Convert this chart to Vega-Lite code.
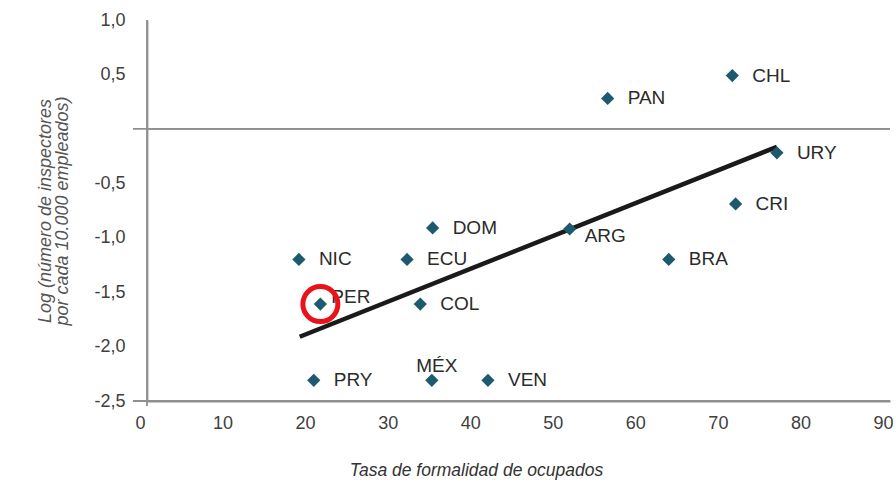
{
  "$schema": "https://vega.github.io/schema/vega-lite/v6.json",
  "autosize": "none",
  "width": 743,
  "height": 381,
  "padding": {"left": 147, "top": 20, "right": 6, "bottom": 85},
  "background": "white",
  "config": {
    "view": {"stroke": null},
    "font": "Liberation Sans"
  },
  "datasets": {
    "paises": [
      {"pais": "CHL", "formalidad": 70.9, "inspectores": 0.49},
      {"pais": "PAN", "formalidad": 55.8, "inspectores": 0.28},
      {"pais": "URY", "formalidad": 76.3, "inspectores": -0.22},
      {"pais": "CRI", "formalidad": 71.3, "inspectores": -0.69},
      {"pais": "ARG", "formalidad": 51.2, "inspectores": -0.92},
      {"pais": "BRA", "formalidad": 63.2, "inspectores": -1.20},
      {"pais": "DOM", "formalidad": 34.6, "inspectores": -0.91},
      {"pais": "NIC", "formalidad": 18.4, "inspectores": -1.20},
      {"pais": "ECU", "formalidad": 31.5, "inspectores": -1.20},
      {"pais": "PER", "formalidad": 21.0, "inspectores": -1.61},
      {"pais": "COL", "formalidad": 33.1, "inspectores": -1.61},
      {"pais": "PRY", "formalidad": 20.2, "inspectores": -2.31},
      {"pais": "MÉX", "formalidad": 34.5, "inspectores": -2.31},
      {"pais": "VEN", "formalidad": 41.3, "inspectores": -2.31}
    ],
    "tendencia": [
      {"formalidad": 18.5, "inspectores": -1.91},
      {"formalidad": 76.3, "inspectores": -0.165}
    ],
    "ejes": [{"formalidad": 0, "inspectores": 0}]
  },
  "layer": [
    {
      "data": {"name": "ejes"},
      "mark": {"type": "rule", "color": "#8f8f8f", "strokeWidth": 1.8},
      "encoding": {
        "x": {"datum": -1.7, "type": "quantitative", "scale": {"domain": [0, 90], "nice": false, "zero": false}},
        "x2": {"datum": 90},
        "y": {"datum": 0, "type": "quantitative", "scale": {"domain": [-2.5, 1.0], "nice": false, "zero": false}}
      }
    },
    {
      "data": {"name": "ejes"},
      "mark": {"type": "rule", "color": "#8f8f8f", "strokeWidth": 1.8},
      "encoding": {
        "x": {"datum": -1.7, "type": "quantitative"},
        "x2": {"datum": 90},
        "y": {"datum": -2.5, "type": "quantitative"}
      }
    },
    {
      "data": {"name": "ejes"},
      "mark": {"type": "rule", "color": "#8f8f8f", "strokeWidth": 1.8},
      "encoding": {
        "x": {"datum": 0, "type": "quantitative"},
        "y": {"datum": -2.546, "type": "quantitative"},
        "y2": {"datum": 1.0}
      }
    },
    {
      "encoding": {
        "x": {
          "field": "formalidad",
          "type": "quantitative",
          "scale": {"domain": [0, 90], "nice": false, "zero": false},
          "axis": {
            "title": "Tasa de formalidad de ocupados",
            "titleFont": "Liberation Sans",
            "titleFontStyle": "italic",
            "titleFontWeight": "normal",
            "titleFontSize": 17.5,
            "titleColor": "#333333",
            "titleX": 329,
            "titleY": 60,
            "values": [0, 10, 20, 30, 40, 50, 60, 70, 80, 90],
            "labelFontSize": 18,
            "labelColor": "#404040",
            "labelPadding": 13,
            "labelOffset": -7,
            "labelFlush": false,
            "labelOverlap": false,
            "grid": false,
            "ticks": false,
            "domain": true,
            "domainColor": "#8f8f8f",
            "domainWidth": 1.8
          }
        },
        "y": {
          "field": "inspectores",
          "type": "quantitative",
          "scale": {"domain": [-2.5, 1.0], "nice": false, "zero": false},
          "axis": {
            "title": ["Log (número de inspectores", "por cada 10.000 empleados)"],
            "titleFont": "Liberation Sans",
            "titleFontStyle": "italic",
            "titleFontWeight": "normal",
            "titleFontSize": 18,
            "titleColor": "#555555",
            "titlePadding": 22,
            "titleLineHeight": 17,
            "values": [-2.5, -2.0, -1.5, -1.0, -0.5, 0.5, 1.0],
            "labelExpr": "replace(replace(format(datum.value, '.1f'), '.', ','), '\u2212', '-')",
            "labelFontSize": 18,
            "labelColor": "#404040",
            "labelPadding": 22,
            "labelFlush": false,
            "labelOverlap": false,
            "grid": false,
            "ticks": false,
            "domain": true,
            "domainColor": "#8f8f8f",
            "domainWidth": 1.8
          }
        }
      },
      "layer": [
        {
          "data": {"name": "ejes"},
          "mark": {"type": "rule", "color": "#8f8f8f", "strokeWidth": 1.8},
          "encoding": {"x": null}
        },
        {
          "data": {"name": "tendencia"},
          "mark": {"type": "line", "color": "#1a1a1a", "strokeWidth": 4.5},
          "encoding": {}
        },
        {
          "data": {"name": "paises"},
          "mark": {"type": "point", "shape": "diamond", "filled": true, "size": 175, "color": "#1d5a70", "opacity": 1},
          "encoding": {}
        },
        {
          "data": {"name": "paises"},
          "transform": [{"filter": "datum.pais != 'MÉX' && datum.pais != 'PER' && datum.pais != 'ARG'"}],
          "mark": {"type": "text", "align": "left", "baseline": "middle", "dx": 20, "fontSize": 19, "color": "#2b2b2b", "font": "Liberation Sans"},
          "encoding": {"text": {"field": "pais"}}
        },
        {
          "data": {"name": "paises"},
          "transform": [{"filter": "datum.pais == 'MÉX'"}],
          "mark": {"type": "text", "align": "center", "baseline": "middle", "dx": 5, "dy": -14, "fontSize": 19, "color": "#2b2b2b", "font": "Liberation Sans"},
          "encoding": {"text": {"field": "pais"}}
        },
        {
          "data": {"name": "paises"},
          "transform": [{"filter": "datum.pais == 'PER'"}],
          "mark": {"type": "text", "align": "left", "baseline": "middle", "dx": 11, "dy": -7, "fontSize": 19, "color": "#2b2b2b", "font": "Liberation Sans"},
          "encoding": {"text": {"field": "pais"}}
        },
        {
          "data": {"name": "paises"},
          "transform": [{"filter": "datum.pais == 'ARG'"}],
          "mark": {"type": "text", "align": "left", "baseline": "middle", "dx": 15, "dy": 7, "fontSize": 19, "color": "#2b2b2b", "font": "Liberation Sans"},
          "encoding": {"text": {"field": "pais"}}
        },
        {
          "data": {"name": "paises"},
          "transform": [{"filter": "datum.pais == 'PER'"}],
          "mark": {"type": "point", "shape": "circle", "filled": false, "size": 1225, "stroke": "#e8121b", "strokeWidth": 5, "opacity": 1},
          "encoding": {}
        }
      ]
    }
  ]
}
